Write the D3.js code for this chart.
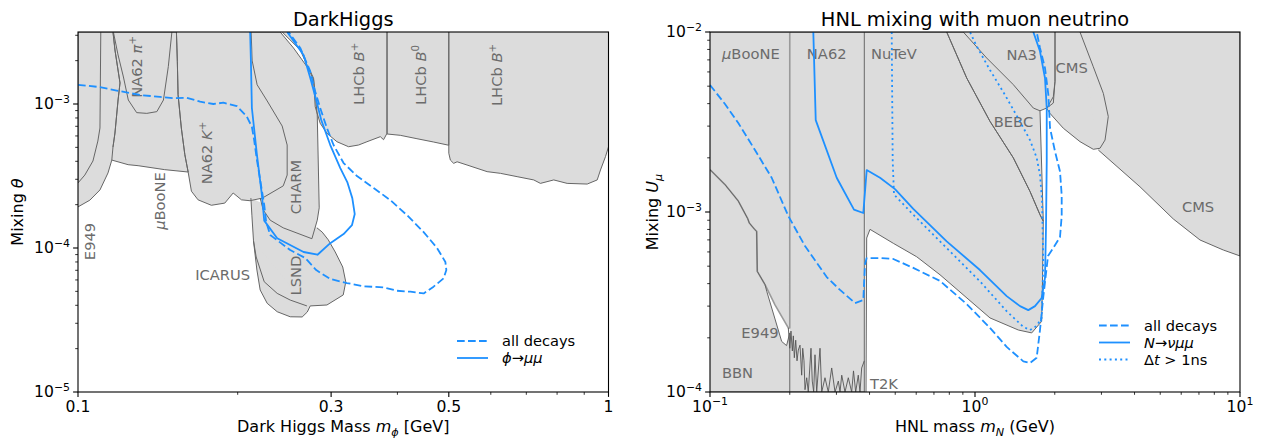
<!DOCTYPE html>
<html>
<head>
<meta charset="utf-8">
<script src="https://cdn.jsdelivr.net/npm/d3@7"></script>
<style>
  body { margin: 0; background: #fff; }
  svg { font-family: "DejaVu Sans", sans-serif; }
</style>
</head>
<body>
<svg id="chart" width="1261" height="438"></svg>
<script>
// ---------- DarkHiggs panel: excluded regions [mass GeV, mixing] ----------
const dhRegionA = [[0.1,1.93e-4],[0.1053,2.15e-4],[0.110,2.53e-4],[0.1139,3.32e-4],[0.1158,4.08e-4],[0.1164,5.03e-4],[0.1174,6.29e-4],[0.119,1.066e-3],[0.120,1.40e-3],[0.1174,2.37e-3],[0.1164,3.162e-3],[0.1,3.162e-3]];
const dhE949 = [[0.1104,3.162e-3],[0.110,6.81e-4],[0.109,5.53e-4],[0.1067,4.02e-4],[0.103,3.21e-4],[0.1,2.83e-4],[0.1,3.162e-3]];
const dhMicroBooNE = [[0.1158,4.08e-4],[0.1243,3.79e-4],[0.1298,3.73e-4],[0.1457,3.50e-4],[0.1613,3.37e-4],[0.159,4.45e-4],[0.1566,6.81e-4],[0.1544,1.16e-3],[0.1539,1.98e-3],[0.1533,3.162e-3],[0.1164,3.162e-3],[0.1174,2.37e-3],[0.120,1.40e-3],[0.119,1.066e-3],[0.1174,6.29e-4],[0.1164,5.03e-4]];
const dhNA62pi = [[0.1166,3.162e-3],[0.119,2.19e-3],[0.1218,1.54e-3],[0.1244,1.066e-3],[0.129,8.71e-4],[0.1348,8.61e-4],[0.1408,8.85e-4],[0.1449,1.066e-3],[0.148,1.82e-3],[0.1503,3.162e-3]];
const dhNA62K = [[0.1533,3.162e-3],[0.1539,1.98e-3],[0.1544,1.16e-3],[0.1566,6.81e-4],[0.159,4.45e-4],[0.1613,3.37e-4],[0.1636,2.48e-4],[0.1684,2.16e-4],[0.1784,1.98e-4],[0.1891,2.05e-4],[0.1961,2.41e-4],[0.2033,2.16e-4],[0.2109,2.13e-4],[0.2225,2.22e-4],[0.2437,2.70e-4],[0.2479,3.21e-4],[0.2479,5.19e-4],[0.2426,7.03e-4],[0.2273,1.05e-3],[0.2176,1.36e-3],[0.213,1.99e-3],[0.212,3.162e-3]];
const dhLSND = [[0.2821,1.38e-4],[0.2886,1.29e-4],[0.2963,1.14e-4],[0.3054,9.38e-5],[0.3155,7.38e-5],[0.3197,5.81e-5],[0.3162,4.72e-5],[0.2946,4.02e-5],[0.274,3.96e-5],[0.2705,3.59e-5],[0.2646,3.32e-5],[0.2512,3.33e-5],[0.2374,3.61e-5],[0.2273,4.13e-5],[0.2205,5.11e-5],[0.2174,7.03e-5],[0.2142,1.12e-4],[0.2127,1.69e-4],[0.2118,2.22e-4]];
const dhICARUS = [[0.2142,1.12e-4],[0.2167,8.66e-5],[0.2244,5.83e-5],[0.2374,4.84e-5],[0.2512,4.35e-5],[0.2701,3.96e-5]];
const dhCHARM = [[0.2205,2.22e-4],[0.2234,1.84e-4],[0.2303,1.56e-4],[0.2437,1.38e-4],[0.276,1.16e-4],[0.2825,1.56e-4],[0.2849,1.90e-4],[0.2825,8.39e-4],[0.278,1.51e-3],[0.274,1.69e-3],[0.2548,2.45e-3],[0.2405,3.162e-3],[0.212,3.162e-3]];
const dhLHCbBp1 = [[0.3824,3.162e-3],[0.3824,6.26e-4],[0.3767,5.65e-4],[0.3714,5.93e-4],[0.3505,5.47e-4],[0.338,5.19e-4],[0.3236,5.05e-4],[0.3077,5.47e-4],[0.2946,6.26e-4],[0.2861,7.35e-4],[0.280,9.57e-4],[0.278,1.47e-3],[0.2624,2.37e-3],[0.2426,3.162e-3]];
const dhLHCbB0 = [[0.5,3.162e-3],[0.5,5.17e-4],[0.4675,5.45e-4],[0.4355,5.74e-4],[0.4051,6.06e-4],[0.3824,6.19e-4],[0.3824,3.162e-3]];
const dhLHCbBp2 = [[0.5,3.162e-3],[0.5,4.55e-4],[0.5034,4.08e-4],[0.5107,3.87e-4],[0.5183,3.97e-4],[0.5412,3.77e-4],[0.5905,3.39e-4],[0.6256,3.30e-4],[0.6725,3.13e-4],[0.7229,2.97e-4],[0.7442,2.81e-4],[0.7885,2.97e-4],[0.8357,2.81e-4],[0.9117,2.78e-4],[0.9522,2.97e-4],[0.9658,3.48e-4],[0.987,4.31e-4],[1.0,5.05e-4],[1.0,3.162e-3]];

// DarkHiggs sensitivity curves
const dhAllDecays = [[0.1,1.36e-3],[0.110,1.31e-3],[0.1183,1.24e-3],[0.1309,1.155e-3],[0.1428,1.12e-3],[0.1513,1.096e-3],[0.1604,1.105e-3],[0.1699,1.038e-3],[0.180,1.0e-3],[0.188,1.021e-3],[0.1993,9.68e-4],[0.2081,8.17e-4],[0.2127,6.95e-4],[0.2148,5.62e-4],[0.2174,4.08e-4],[0.2205,2.97e-4],[0.2244,1.99e-4],[0.2263,1.52e-4],[0.2303,1.23e-4],[0.2512,9.68e-5],[0.2681,8.52e-5],[0.2812,7.03e-5],[0.2989,6.09e-5],[0.3214,5.71e-5],[0.3454,5.42e-5],[0.3767,5.33e-5],[0.3993,5.05e-5],[0.4231,4.97e-5],[0.4483,4.84e-5],[0.4681,5.39e-5],[0.4889,6.16e-5],[0.4947,7.03e-5],[0.4926,8.0e-5],[0.4751,1.0e-4],[0.4483,1.29e-4],[0.4171,1.69e-4],[0.3879,2.15e-4],[0.3608,2.61e-4],[0.3356,3.16e-4],[0.3167,3.89e-4],[0.3032,5.19e-4],[0.2946,6.81e-4],[0.2861,9.38e-4],[0.280,1.22e-3],[0.274,1.69e-3],[0.2624,2.45e-3],[0.2494,3.162e-3]];
const dhPhiMuMu = [[0.2111,3.162e-3],[0.2118,1.99e-3],[0.2127,9.38e-4],[0.2174,4.45e-4],[0.2221,2.35e-4],[0.2244,1.55e-4],[0.2374,1.17e-4],[0.2662,9.38e-5],[0.2828,8.98e-5],[0.2989,1.08e-4],[0.3167,1.25e-4],[0.3284,1.44e-4],[0.3324,1.72e-4],[0.3289,2.22e-4],[0.3218,2.87e-4],[0.3122,3.59e-4],[0.2989,5.19e-4],[0.2874,7.74e-4],[0.2812,1.066e-3],[0.274,1.52e-3],[0.2662,2.19e-3],[0.2479,3.162e-3]];

const dhXTicks = [0.1, 0.3, 0.5, 1];
const dhXTickLabels = ["0.1", "0.3", "0.5", "1"];
const dhYTicks = [1e-5, 1e-4, 1e-3];
const dhYTickExps = ["−5", "−4", "−3"];

// ---------- HNL panel: excluded regions [mass GeV, U_mu] ----------
const hnlMicroBooNE = [[0.1,1.72e-3],[0.1139,1.42e-3],[0.1279,1.15e-3],[0.1388,9.18e-4],[0.1407,8.69e-4],[0.1478,7.97e-4],[0.150,7.81e-4],[0.1508,4.68e-4],[0.1613,3.95e-4],[0.1759,3.05e-4],[0.1975,2.27e-4],[0.2,2.27e-4],[0.2,1e-2],[0.1,1e-2]];
const hnlBBN = [[0.1,1.72e-3],[0.1139,1.42e-3],[0.1279,1.15e-3],[0.1388,9.18e-4],[0.1407,8.69e-4],[0.1478,7.97e-4],[0.150,7.81e-4],[0.1508,4.68e-4],[0.1613,3.95e-4],[0.1637,3.63e-4],[0.1864,1.91e-4],[0.1945,1.81e-4],[0.2,2.13e-4],[0.2,1e-4],[0.1,1e-4]];
const hnlNA62 = [[0.2,1e-2],[0.3822,1e-2],[0.3822,1e-4],[0.2,1e-4]];
const hnlNuTeV = [[0.3822,1e-2],[0.782,1e-2],[0.9305,5.55e-3],[1.139,3.19e-3],[1.395,2.0e-3],[1.613,1.30e-3],[1.759,9.66e-4],[1.810,8.88e-4],[1.798,4.19e-4],[1.785,2.47e-4],[1.637,2.13e-4],[1.457,2.21e-4],[1.139,2.58e-4],[0.7378,4.48e-4],[0.6026,5.64e-4],[0.4917,6.70e-4],[0.4016,8.01e-4],[0.3902,7.17e-4],[0.3879,1e-4]];
const hnlBEBC = [[1.759,3.65e-3],[1.810,8.88e-4],[1.759,9.66e-4],[1.613,1.30e-3],[1.395,2.0e-3],[1.139,3.19e-3],[0.9305,5.55e-3],[0.782,1e-2],[0.9032,1e-2]];
const hnlNA3 = [[0.9032,1e-2],[1.107,7.17e-3],[1.395,5.10e-3],[1.660,3.78e-3],[1.759,3.65e-3],[1.865,3.78e-3],[1.975,4.03e-3],[2.004,5.32e-3],[2.004,1e-2]];
const hnlCMSDisplaced = [[2.004,1e-2],[2.004,5.32e-3],[1.975,4.37e-3],[1.865,3.77e-3],[1.919,3.53e-3],[2.154,2.92e-3],[2.490,2.46e-3],[2.795,2.23e-3],[2.963,2.26e-3],[3.095,2.51e-3],[3.184,3.39e-3],[3.050,4.56e-3],[2.795,6.41e-3],[2.490,1e-2]];
const hnlCMS = [[2.920,2.21e-3],[4.195,1.38e-3],[5.601,9.15e-4],[7.066,6.99e-4],[8.650,6.15e-4],[10,5.70e-4],[10,1e-2],[2.490,1e-2]];
const hnlE949 = [[0.1975,2.27e-4],[0.2,1.75e-4],[0.2021,2.18e-4],[0.2045,1.69e-4],[0.2063,2.05e-4],[0.2081,1.55e-4],[0.2106,1.94e-4],[0.213,1.49e-4],[0.2154,1.71e-4],[0.2186,1.82e-4],[0.2218,1.24e-4],[0.2238,1.75e-4],[0.2263,1.49e-4],[0.2283,1.03e-4],[0.2317,1.20e-4],[0.2349,1.0e-4],[0.2405,1.75e-4],[0.2432,1.15e-4],[0.2462,1.0e-4],[0.249,1.61e-4],[0.2527,1.0e-4],[0.2601,1.75e-4],[0.264,1.0e-4],[0.2716,1.20e-4],[0.2795,1.0e-4],[0.2879,1.36e-4],[0.2963,1.0e-4],[0.305,1.15e-4],[0.3095,1.0e-4],[0.3141,1.24e-4],[0.3232,1.0e-4],[0.3326,1.20e-4],[0.3425,1.0e-4],[0.3479,1.31e-4],[0.3546,1.0e-4],[0.3627,1.24e-4],[0.3681,1.0e-4],[0.3736,1.36e-4],[0.3822,1.49e-4]];

// HNL sensitivity curves
const hnlAllDecays = [[0.1,5.08e-3],[0.1139,3.98e-3],[0.1279,3.12e-3],[0.1478,2.21e-3],[0.1709,1.55e-3],[0.1975,9.50e-4],[0.2283,6.47e-4],[0.2757,4.35e-4],[0.3095,3.69e-4],[0.3525,3.12e-4],[0.3789,3.24e-4],[0.3845,5.14e-4],[0.3902,5.55e-4],[0.4381,5.55e-4],[0.4917,5.48e-4],[0.5849,4.89e-4],[0.7378,4.14e-4],[0.9305,3.08e-4],[1.139,2.27e-4],[1.317,1.78e-4],[1.522,1.48e-4],[1.613,1.45e-4],[1.709,1.55e-4],[1.759,2.21e-4],[1.810,3.37e-4],[1.886,5.70e-4],[1.975,6.31e-4],[2.093,7.26e-4],[2.124,9.50e-4],[2.124,1.24e-3],[2.093,1.68e-3],[2.004,2.17e-3],[1.919,2.93e-3],[1.891,4.49e-3],[1.837,6.31e-3],[1.759,8.15e-3],[1.709,1e-2]];
const hnlNuMuMu = [[0.2454,1e-2],[0.2506,3.24e-3],[0.3007,1.55e-3],[0.3494,1.03e-3],[0.3789,9.87e-4],[0.3902,1.71e-3],[0.4381,1.55e-3],[0.4991,1.34e-3],[0.5849,1.04e-3],[0.782,6.87e-4],[1.044,4.76e-4],[1.317,3.41e-4],[1.479,3.0e-4],[1.589,2.85e-4],[1.684,3.0e-4],[1.785,3.33e-4],[1.837,4.30e-4],[1.853,8.15e-4],[1.865,1.91e-3],[1.865,3.78e-3],[1.837,5.55e-3],[1.759,7.81e-3],[1.660,1e-2]];
const hnlDelayed = [[0.4849,1e-2],[0.4891,1.92e-3],[0.4947,1.25e-3],[0.5849,9.66e-4],[0.782,6.31e-4],[1.044,4.12e-4],[1.317,2.81e-4],[1.522,2.30e-4],[1.613,2.21e-4],[1.709,2.33e-4],[1.785,2.58e-4],[1.810,5.27e-4],[1.790,1.17e-3],[1.759,1.61e-3],[1.709,2.0e-3],[1.613,2.51e-3],[1.453,3.33e-3],[1.298,4.47e-3],[1.139,6.15e-3],[1.009,8.47e-3],[0.9574,1e-2]];

const hnlXTicks = [0.1, 1, 10];
const hnlXTickExps = ["−1", "0", "1"];
const hnlYTicks = [1e-4, 1e-3, 1e-2];
const hnlYTickExps = ["−4", "−3", "−2"];

// text pieces: [text, style]  style: i = italic, ^ = superscript, _ = subscript
const dhLabels = [
  { parts: [["NA62 ",""],["π","i"],["+","^"]], at: [0.129, 1.81e-3], rot: true },
  { parts: [["NA62 ",""],["K","i"],["+","^"]], at: [0.1749, 4.57e-4], rot: true },
  { parts: [["μ","i"],["BooNE",""]], at: [0.1426, 2.12e-4], rot: true },
  { parts: [["E949",""]], at: [0.1053, 1.11e-4], rot: true },
  { parts: [["CHARM",""]], at: [0.2575, 2.65e-4], rot: true },
  { parts: [["LSND",""]], at: [0.2578, 6.44e-5], rot: true },
  { parts: [["ICARUS",""]], at: [0.1874, 6.49e-5], rot: false },
  { parts: [["LHCb ",""],["B","i"],["+","^"]], at: [0.338, 1.62e-3], rot: true },
  { parts: [["LHCb ",""],["B","i"],["0","^"]], at: [0.4419, 1.59e-3], rot: true },
  { parts: [["LHCb ",""],["B","i"],["+","^"]], at: [0.6166, 1.59e-3], rot: true }
];
const hnlLabels = [
  { parts: [["μ","i"],["BooNE",""]], at: [0.1426, 7.55e-3] },
  { parts: [["NA62",""]], at: [0.2757, 7.55e-3] },
  { parts: [["NuTeV",""]], at: [0.4947, 7.55e-3] },
  { parts: [["NA3",""]], at: [1.501, 7.45e-3] },
  { parts: [["CMS",""]], at: [2.317, 6.35e-3] },
  { parts: [["BEBC",""]], at: [1.397, 3.18e-3] },
  { parts: [["CMS",""]], at: [6.944, 1.07e-3] },
  { parts: [["E949",""]], at: [0.1544, 2.13e-4] },
  { parts: [["BBN",""]], at: [0.127, 1.275e-4] },
  { parts: [["T2K",""]], at: [0.4536, 1.115e-4] }
];

const svg = d3.select("#chart");
const FS = 16, FS_TICK = 15.6, FS_NOTE = 14.7, FS_TITLE = 19.4, FS_LEG = 14.6;
const GRAY_FILL = "#dcdcdc", EDGE = "#666", BLUE = "#1e90ff";
const DASH = "7.7,3.3", DOT = "2,3.3";

function addRich(sel, parts, size) {
  let shift = 0;
  parts.forEach(([t, st]) => {
    const target = st.includes("^") ? -0.42 * size : st.includes("_") ? 0.22 * size : 0;
    const ts = sel.append("tspan").text(t);
    if (target !== shift) ts.attr("dy", target - shift);
    shift = target;
    if (st.includes("i")) ts.attr("font-style", "italic");
    if (target !== 0) ts.attr("font-size", size * 0.7);
  });
  return sel;
}

function drawPanel(p) {
  const x = d3.scaleLog().domain(p.xDomain).range([p.left, p.right]);
  const y = d3.scaleLog().domain(p.yDomain).range([p.bottom, p.top]);
  const g = svg.append("g");

  g.append("clipPath").attr("id", p.id + "-clip").append("rect")
    .attr("x", p.left).attr("y", p.top)
    .attr("width", p.right - p.left).attr("height", p.bottom - p.top);
  const plot = g.append("g").attr("clip-path", `url(#${p.id}-clip)`);
  const line = d3.line().x(d => x(d[0])).y(d => y(d[1]));

  // excluded regions: fill everything, then edges on top
  plot.selectAll("path.fill").data(p.regions).join("path").attr("class", "fill")
    .attr("d", d => line(d.pts) + "Z")
    .attr("fill", GRAY_FILL);
  plot.selectAll("path.edge").data(p.regions).join("path").attr("class", "edge")
    .attr("d", d => line(d.pts))
    .attr("fill", "none")
    .attr("stroke", d => d.light ? "#9a9a9a" : EDGE)
    .attr("stroke-width", d => d.light ? 1.6 : 1)
    .attr("stroke-linejoin", "round");

  // plain limit lines (no fill)
  (p.limits || []).forEach(l => {
    plot.append("path").attr("d", line(l)).attr("fill", "none")
      .attr("stroke", "#555").attr("stroke-width", 0.9);
  });

  // region names
  p.labels.forEach(lb => {
    const t = plot.append("text").attr("fill", "#6b6b6b").attr("font-size", FS_NOTE)
      .attr("text-anchor", "middle").attr("dy", "0.35em");
    if (lb.rot) t.attr("transform", `translate(${x(lb.at[0])},${y(lb.at[1])}) rotate(-90)`);
    else t.attr("x", x(lb.at[0])).attr("y", y(lb.at[1]));
    addRich(t, lb.parts, FS_NOTE);
  });

  // sensitivity curves
  p.curves.forEach(c => {
    plot.append("path").attr("d", line(c.pts)).attr("fill", "none")
      .attr("stroke", BLUE).attr("stroke-width", 1.8)
      .attr("stroke-dasharray", c.dash || null)
      .attr("stroke-linejoin", "round");
  });

  // ticks
  const isMajor = (v, majors) => majors.some(m => Math.abs(Math.log10(v) - Math.log10(m)) < 1e-6);
  const xMinor = x.ticks().filter(v => !isMajor(v, p.xTicks));
  const yMinor = y.ticks().filter(v => !isMajor(v, p.yTicks));
  const ax = g.append("g").attr("stroke", "#000");
  p.xTicks.forEach(v => ax.append("line").attr("x1", x(v)).attr("x2", x(v)).attr("y1", p.bottom).attr("y2", p.bottom + 4.9).attr("stroke-width", 1.1));
  xMinor.forEach(v => ax.append("line").attr("x1", x(v)).attr("x2", x(v)).attr("y1", p.bottom).attr("y2", p.bottom + 2.8).attr("stroke-width", 0.8));
  p.yTicks.forEach(v => ax.append("line").attr("y1", y(v)).attr("y2", y(v)).attr("x1", p.left).attr("x2", p.left - 4.9).attr("stroke-width", 1.1));
  yMinor.forEach(v => ax.append("line").attr("y1", y(v)).attr("y2", y(v)).attr("x1", p.left).attr("x2", p.left - 2.8).attr("stroke-width", 0.8));

  p.xTicks.forEach((v, i) => {
    const t = g.append("text").attr("x", x(v)).attr("y", p.bottom + 20)
      .attr("text-anchor", "middle").attr("font-size", FS_TICK);
    addRich(t, p.xTickParts[i], FS_TICK);
  });
  p.yTicks.forEach((v, i) => {
    const t = g.append("text").attr("x", p.left - 8).attr("y", y(v)).attr("dy", "0.35em")
      .attr("text-anchor", "end").attr("font-size", FS_TICK);
    addRich(t, [["10", ""], [p.yTickExps[i], "^"]], FS_TICK);
  });

  // frame
  g.append("rect").attr("x", p.left).attr("y", p.top)
    .attr("width", p.right - p.left).attr("height", p.bottom - p.top)
    .attr("fill", "none").attr("stroke", "#000").attr("stroke-width", 1.1);

  // titles and axis labels
  g.append("text").attr("x", (p.left + p.right) / 2).attr("y", 26)
    .attr("text-anchor", "middle").attr("font-size", FS_TITLE).text(p.title);
  addRich(g.append("text").attr("x", (p.left + p.right) / 2).attr("y", 432)
    .attr("text-anchor", "middle").attr("font-size", FS), p.xLabel, FS);
  addRich(g.append("text").attr("transform", `translate(${p.yLabelX},${(p.top + p.bottom) / 2}) rotate(-90)`)
    .attr("text-anchor", "middle").attr("font-size", FS), p.yLabel, FS);

  // legend
  p.legend.forEach((it, i) => {
    const yy = p.legendY + i * p.legendStep;
    g.append("line").attr("x1", p.legendX).attr("x2", p.legendX + 31)
      .attr("y1", yy).attr("y2", yy).attr("stroke", BLUE).attr("stroke-width", 1.8)
      .attr("stroke-dasharray", it.dash || null);
    addRich(g.append("text").attr("x", p.legendX + 45).attr("y", yy).attr("dy", "0.35em")
      .attr("font-size", FS_LEG), it.parts, FS_LEG);
  });
}

drawPanel({
  id: "dh", left: 78, right: 608.5, top: 32, bottom: 392,
  xDomain: [0.1, 1], yDomain: [1e-5, Math.pow(10, -2.5)],
  regions: [
    { pts: dhRegionA }, { pts: dhE949 }, { pts: dhMicroBooNE }, { pts: dhNA62pi },
    { pts: dhNA62K }, { pts: dhLSND }, { pts: dhICARUS }, { pts: dhCHARM },
    { pts: dhLHCbBp1 }, { pts: dhLHCbB0 }, { pts: dhLHCbBp2 }
  ],
  labels: dhLabels,
  curves: [{ pts: dhAllDecays, dash: DASH }, { pts: dhPhiMuMu }],
  xTicks: dhXTicks, xTickParts: dhXTickLabels.map(s => [[s, ""]]),
  yTicks: dhYTicks, yTickExps: dhYTickExps,
  title: "DarkHiggs",
  xLabel: [["Dark Higgs Mass ", ""], ["m", "i"], ["ϕ", "i_"], [" [GeV]", ""]],
  yLabel: [["Mixing ", ""], ["θ", "i"]], yLabelX: 23,
  legend: [
    { parts: [["all decays", ""]], dash: DASH },
    { parts: [["ϕ", "i"], ["→", ""], ["μμ", "i"]] }
  ],
  legendX: 457, legendY: 341, legendStep: 17
});

drawPanel({
  id: "hnl", left: 710, right: 1240, top: 32, bottom: 392,
  xDomain: [0.1, 10], yDomain: [1e-4, 1e-2],
  regions: [
    { pts: hnlMicroBooNE, light: true }, { pts: hnlBBN }, { pts: hnlNA62 },
    { pts: hnlNuTeV }, { pts: hnlBEBC }, { pts: hnlNA3 },
    { pts: hnlCMSDisplaced }, { pts: hnlCMS }
  ],
  limits: [hnlE949],
  labels: hnlLabels,
  curves: [{ pts: hnlAllDecays, dash: DASH }, { pts: hnlNuMuMu }, { pts: hnlDelayed, dash: DOT }],
  xTicks: hnlXTicks, xTickParts: hnlXTickExps.map(e => [["10", ""], [e, "^"]]),
  yTicks: hnlYTicks, yTickExps: hnlYTickExps,
  title: "HNL mixing with muon neutrino",
  xLabel: [["HNL mass ", ""], ["m", "i"], ["N", "i_"], [" (GeV)", ""]],
  yLabel: [["Mixing ", ""], ["U", "i"], ["μ", "i_"]], yLabelX: 658,
  legend: [
    { parts: [["all decays", ""]], dash: DASH },
    { parts: [["N", "i"], ["→", ""], ["νμμ", "i"]] },
    { parts: [["Δ", ""], ["t", "i"], [" > 1ns", ""]], dash: DOT }
  ],
  legendX: 1099, legendY: 325.5, legendStep: 17
});
</script>
</body>
</html>
